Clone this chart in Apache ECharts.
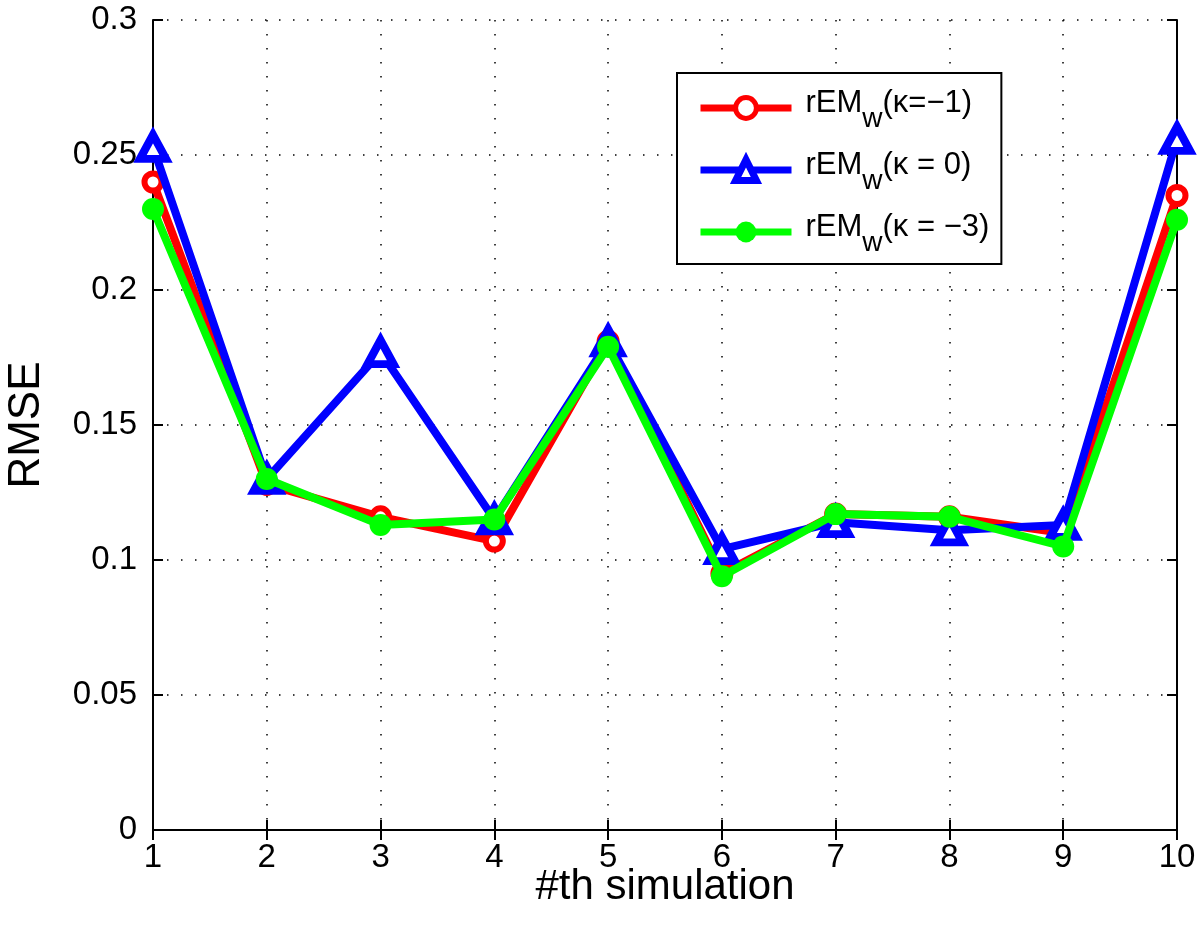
<!DOCTYPE html>
<html>
<head>
<meta charset="utf-8">
<style>
  html, body { margin: 0; padding: 0; background: #fff; }
  #chart { width: 1200px; height: 934px; }
</style>
<script src="https://cdn.jsdelivr.net/npm/echarts@6/dist/echarts.min.js"></script>
</head>
<body>
<div id="chart"></div>
<script>
// ---- data ----
const categories = ['1', '2', '3', '4', '5', '6', '7', '8', '9', '10'];
const seriesNames = ['rEMw(κ=−1)', 'rEMw(κ = 0)', 'rEMw(κ = −3)'];
const kappaMinus1 = [0.240, 0.128, 0.116, 0.107, 0.181, 0.095, 0.117, 0.116, 0.110, 0.235];
const kappa0      = [0.253, 0.130, 0.177, 0.115, 0.181, 0.104, 0.114, 0.111, 0.113, 0.256];
const kappaMinus3 = [0.230, 0.130, 0.113, 0.115, 0.179, 0.094, 0.117, 0.116, 0.105, 0.226];
const yTicks = { min: 0, max: 0.3, interval: 0.05 };
const xTitle = '#th simulation';
const yTitle = 'RMSE';

const FONT = 'Liberation Sans, Arial, Helvetica, sans-serif';
const chart = echarts.init(document.getElementById('chart'), null, { renderer: 'canvas' });

const gridLine = { show: true, lineStyle: { color: '#000', width: 1.5, type: [1.5, 12.5] } };
const axisLine = { show: true, lineStyle: { color: '#000', width: 2 } };
const axisTick = { show: true, inside: true, length: 10, lineStyle: { color: '#000', width: 2 } };

// "rEMw(...)" -> rEM with subscript w
function legendLabel(name) {
  return name.slice(0, 3) + '{s|' + name.charAt(3) + '}' + name.slice(4);
}

const option = {
  backgroundColor: '#fff',
  animation: false,
  grid: { left: 153, right: 23, top: 20, bottom: 104, containLabel: false, outerBoundsMode: 'none' },
  legend: {
    orient: 'vertical',
    left: 677,
    top: 73,
    padding: [4, 12, 1, 20],
    itemGap: 0,
    itemWidth: 91,
    itemHeight: 26,
    borderColor: '#000',
    borderWidth: 2,
    backgroundColor: '#fff',
    data: [
      { name: seriesNames[0], itemStyle: { color: '#ffffff', borderColor: '#ff0000', borderWidth: 5 } },
      { name: seriesNames[1], itemStyle: { color: '#ffffff', borderColor: '#0000ff', borderWidth: 7 } },
      { name: seriesNames[2], itemStyle: { color: '#00ff00', borderColor: '#00ff00', borderWidth: 0 } }
    ],
    lineStyle: { width: 7 },
    formatter: legendLabel,
    textStyle: {
      fontFamily: FONT,
      fontSize: 31,
      lineHeight: 52,
      color: '#000',
      padding: [0, 0, 10, 9],
      rich: {
        s: { fontFamily: FONT, fontSize: 28, lineHeight: 20, height: 20, verticalAlign: 'bottom', color: '#000' }
      }
    }
  },
  xAxis: [
    {
      type: 'category',
      data: categories,
      boundaryGap: false,
      axisLine: axisLine,
      axisTick: Object.assign({ alignWithLabel: true }, axisTick),
      axisLabel: { fontFamily: FONT, fontSize: 33, color: '#000', margin: 11 },
      splitLine: gridLine,
      name: xTitle,
      nameLocation: 'middle',
      nameGap: 36,
      nameMoveOverlap: false,
      nameTextStyle: { fontFamily: FONT, fontSize: 42, color: '#000' }
    },
    {
      type: 'category',
      data: categories,
      boundaryGap: false,
      position: 'top',
      axisLine: axisLine,
      axisTick: axisTick,
      axisLabel: { show: false },
      splitLine: { show: false }
    }
  ],
  yAxis: [
    {
      type: 'value',
      min: yTicks.min,
      max: yTicks.max,
      interval: yTicks.interval,
      axisLine: axisLine,
      axisTick: axisTick,
      axisLabel: { fontFamily: FONT, fontSize: 33, color: '#000', margin: 16 },
      splitLine: gridLine,
      name: yTitle,
      nameLocation: 'middle',
      nameRotate: 90,
      nameGap: 104,
      nameTextStyle: { fontFamily: FONT, fontSize: 44, color: '#000' }
    },
    {
      type: 'value',
      min: yTicks.min,
      max: yTicks.max,
      interval: yTicks.interval,
      position: 'right',
      axisLine: axisLine,
      axisTick: axisTick,
      axisLabel: { show: false },
      splitLine: { show: false }
    }
  ],
  series: [
    {
      name: seriesNames[0],
      type: 'line',
      data: kappaMinus1,
      symbol: 'circle',
      symbolSize: 17,
      lineStyle: { width: 8, color: '#ff0000' },
      itemStyle: { color: '#ffffff', borderColor: '#ff0000', borderWidth: 6 },
      z: 2
    },
    {
      name: seriesNames[1],
      type: 'line',
      data: kappa0,
      symbol: 'triangle',
      symbolSize: [26, 24],
      lineStyle: { width: 8, color: '#0000ff' },
      itemStyle: { color: '#ffffff', borderColor: '#0000ff', borderWidth: 8 },
      z: 3
    },
    {
      name: seriesNames[2],
      type: 'line',
      data: kappaMinus3,
      symbol: 'circle',
      symbolSize: 22,
      lineStyle: { width: 8, color: '#00ff00' },
      itemStyle: { color: '#00ff00', borderColor: '#00ff00', borderWidth: 0 },
      z: 4
    }
  ]
};
chart.setOption(option);
</script>
</body>
</html>
